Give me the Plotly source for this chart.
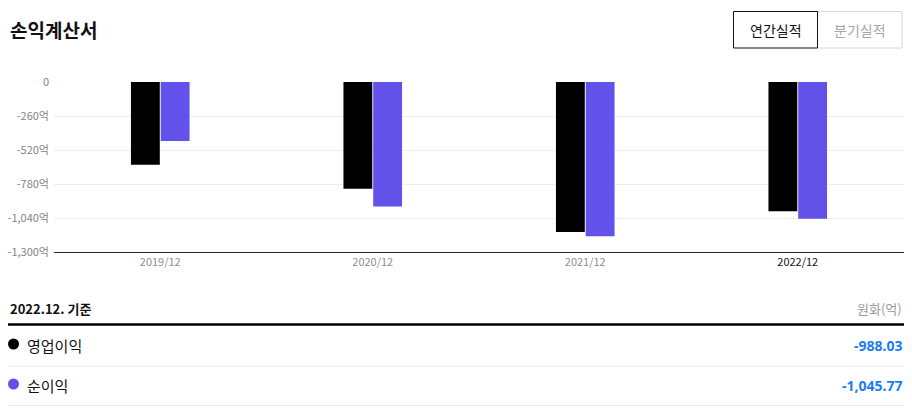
import plotly.graph_objects as go

# ---- data ----
categories = ["2019/12", "2020/12", "2021/12", "2022/12"]
operating_income = [-632, -816, -1147, -988.03]
net_income = [-451, -953, -1180, -1045.77]
y_tick_vals = [0, -260, -520, -780, -1040, -1300]
series_names = ["영업이익", "순이익"]
latest_values = ["-988.03", "-1,045.77"]
series_colors = ["#000000", "#6252EA"]

# page body adds an 8px offset; work in window coordinates and convert
O = 8
W, H = 912 - O, 411 - O
PLOT_X0, PLOT_X1, PLOT_Y0, PLOT_Y1 = 54, 904, 82, 252  # window pixels
L = PLOT_X0 - O
R = W - (PLOT_X1 - O)
T = PLOT_Y0 - O
B = H - (PLOT_Y1 - O)
PW, PH = W - L - R, H - T - B

def px(x):
    return (x - PLOT_X0) / PW

def py(y):
    return (PLOT_Y1 - y) / PH

KR = "Noto Sans CJK KR, Noto Sans, sans-serif"

def fmt(v):
    if v == 0:
        return "0"
    return f"{v:,}억"

y_tick_text = [fmt(v) for v in y_tick_vals]
x_tick_text = [c if i < len(categories) - 1 else f"<span style='color:#111'>{c}</span>"
               for i, c in enumerate(categories)]

fig = go.Figure()
fig.add_trace(go.Bar(x=categories, y=operating_income, name=series_names[0],
                     marker=dict(color=series_colors[0], line=dict(width=0))))
fig.add_trace(go.Bar(x=categories, y=net_income, name=series_names[1],
                     marker=dict(color=series_colors[1], line=dict(width=0))))

fig.update_layout(
    width=W, height=H,
    margin=dict(l=L, r=R, t=T, b=B, pad=0, autoexpand=False),
    paper_bgcolor="white", plot_bgcolor="white",
    barmode="group", bargap=0.72, bargroupgap=0.03,
    showlegend=False,
    font=dict(family=KR, color="#8b8f96", size=11),
    xaxis=dict(tickvals=categories, ticktext=x_tick_text, showline=True, linecolor="#222",
               linewidth=1, showgrid=False, ticks="", tickfont=dict(size=11, color="#8b8f96"),
               automargin=False, fixedrange=True),
    yaxis=dict(range=[-1300, 0], tickvals=y_tick_vals, ticktext=y_tick_text,
               showgrid=True, gridcolor="#eeeeee", gridwidth=1, zeroline=False,
               ticks="", ticklabelstandoff=4, tickfont=dict(size=11, color="#80858c"),
               automargin=False, fixedrange=True),
)

shapes = []
annotations = []

# title
annotations.append(dict(x=px(8), y=py(30), xref="paper", yref="paper", xanchor="left", yanchor="middle",
                        text="<b>손익계산서</b>", showarrow=False,
                        font=dict(family=KR, size=19, color="#111")))
# buttons
shapes.append(dict(type="rect", xref="paper", yref="paper", x0=px(817.5), x1=px(902), y0=py(11.5), y1=py(48),
                   line=dict(color="#d5d8de", width=1), fillcolor="white"))
shapes.append(dict(type="rect", xref="paper", yref="paper", x0=px(733.5), x1=px(817.5), y0=py(11.5), y1=py(48),
                   line=dict(color="#111", width=1), fillcolor="white"))
annotations.append(dict(x=px(775.5), y=py(30), xref="paper", yref="paper", xanchor="center", yanchor="middle",
                        text="연간실적", showarrow=False, font=dict(family=KR, size=14, color="#111")))
annotations.append(dict(x=px(860), y=py(30), xref="paper", yref="paper", xanchor="center", yanchor="middle",
                        text="분기실적", showarrow=False, font=dict(family=KR, size=14, color="#a3a6ab")))

# table header
annotations.append(dict(x=px(8), y=py(308), xref="paper", yref="paper", xanchor="left", yanchor="middle",
                        text="<b>2022.12. 기준</b>", showarrow=False, font=dict(family=KR, size=13, color="#111")))
annotations.append(dict(x=px(904), y=py(308), xref="paper", yref="paper", xanchor="right", yanchor="middle",
                        text="원화(억)", showarrow=False, font=dict(family=KR, size=13, color="#9a9a9a")))
shapes.append(dict(type="line", xref="paper", yref="paper", x0=px(8), x1=px(904), y0=py(324.5), y1=py(324.5),
                   line=dict(color="#000", width=2.5)))

row_y = [345, 385]
sep_y = [366, 405.5]
for i in range(len(series_names)):
    shapes.append(dict(type="circle", xref="paper", yref="paper", xsizemode="pixel", ysizemode="pixel",
                       xanchor=px(13.5), yanchor=py(row_y[i] - 1), x0=-5.5, x1=5.5, y0=-5.5, y1=5.5,
                       fillcolor=series_colors[i], line=dict(width=0)))
    annotations.append(dict(x=px(25), y=py(row_y[i]), xref="paper", yref="paper", xanchor="left", yanchor="middle",
                            text=series_names[i], showarrow=False, font=dict(family=KR, size=15, color="#111")))
    annotations.append(dict(x=px(904), y=py(row_y[i]), xref="paper", yref="paper", xanchor="right", yanchor="middle",
                            text=f"<b>{latest_values[i]}</b>", showarrow=False,
                            font=dict(family="Noto Sans, sans-serif", size=14, color="#1a7cf5")))
    shapes.append(dict(type="line", xref="paper", yref="paper", x0=px(8), x1=px(904), y0=py(sep_y[i]), y1=py(sep_y[i]),
                       line=dict(color="#e8e8e8", width=1)))

fig.update_layout(shapes=shapes, annotations=annotations)
fig.write_html("out.html")
